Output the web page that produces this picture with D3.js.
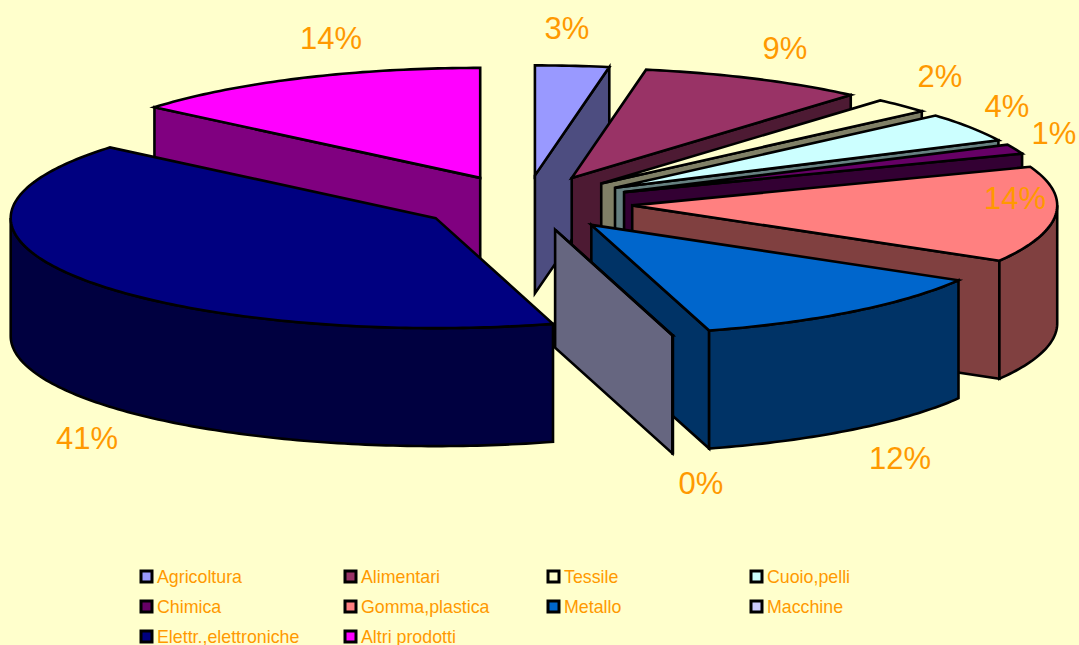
<!DOCTYPE html>
<html>
<head>
<meta charset="utf-8">
<script src="https://d3js.org/d3.v7.min.js"></script>
<style>
  html, body { margin: 0; padding: 0; background: #FFFFCC; overflow: hidden; }
  text { font-family: "Liberation Sans", Arial, sans-serif; fill: #FF9900; }
</style>
</head>
<body>
<div id="vis"></div>
<script>
// Chart data
const categories = ['Agricoltura', 'Alimentari', 'Tessile', 'Cuoio,pelli', 'Chimica', 'Gomma,plastica', 'Metallo', 'Macchine', 'Elettr.,elettroniche', 'Altri prodotti'];
const values = [2.8, 8.6, 2.2, 4.3, 1.4, 14.1, 12.13, 0.02, 40.55, 13.9];
const colors = ['#9999FF', '#993366', '#FFFFCC', '#CCFFFF', '#660066', '#FF8080', '#0066CC', '#CCCCFF', '#000080', '#FF00FF'];

// Layout
const width = 1079, height = 645;
const cx = 525.5, cy = 203, rx = 425, ry = 110;
const depth = 118;       // height of the pie wall
const explode = 0.252;   // how far each slice moves out, in pie radii
const labelAt = [[567, 28], [785, 48], [940, 76], [1007, 106], [1054, 133], [1015, 198], [900, 458], [701, 483], [87, 438], [331, 38]];
const legendX = [141, 345, 548, 751], legendY = [577, 607, 637];

const svg = d3.select('#vis')
    .append('svg')
    .attr('width', width)
    .attr('height', height)
    .style('display', 'block');

// Flat pie coordinates -> screen, tilted view with no perspective
const xScale = d3.scaleLinear().domain([-1, 1]).range([cx - rx, cx + rx]);
const yScale = d3.scaleLinear().domain([-1, 1]).range([cy + ry, cy - ry]);
const line = d3.line();

const slices = d3.pie().sort(null).value(d => d)(values).map((d, i) => {
    d.i = i;
    d.mid = (d.startAngle + d.endAngle) / 2;
    d.ox = explode * Math.sin(d.mid);
    d.oy = explode * Math.cos(d.mid);
    return d;
});

function pt(d, r, a, drop = 0) {
    return [xScale(d.ox + r * Math.sin(a)), yScale(d.oy + r * Math.cos(a)) + drop];
}

function rim(d, a0, a1, drop = 0) {
    const n = Math.max(2, Math.ceil((a1 - a0) * 60));
    return d3.range(n + 1).map(k => pt(d, 1, a0 + (a1 - a0) * k / n, drop));
}

function wall(d, a) {
    return [pt(d, 0, a), pt(d, 1, a), pt(d, 1, a, depth), pt(d, 0, a, depth)];
}

// Side faces are the top colour at half brightness
function shade(c) {
    const r = d3.rgb(c);
    return d3.rgb(r.r / 2, r.g / 2, r.b / 2).formatHex();
}

function face(pts, fill) {
    svg.append('path')
        .attr('d', line(pts) + 'Z')
        .attr('fill', fill)
        .attr('stroke', '#000')
        .attr('stroke-width', 2.6)
        .attr('stroke-linejoin', 'miter');
}

// Back slices first
slices.slice().sort((a, b) => Math.cos(b.mid) - Math.cos(a.mid)).forEach(d => {
    const top = colors[d.i], side = shade(top);

    if (Math.sin(d.startAngle) < -1e-6) face(wall(d, d.startAngle), side);
    if (Math.sin(d.endAngle) > 1e-6) face(wall(d, d.endAngle), side);

    // Outer wall, only the part turned to the viewer (90deg..270deg)
    const a0 = Math.max(d.startAngle, Math.PI / 2), a1 = Math.min(d.endAngle, Math.PI * 1.5);
    if (a1 > a0) {
        face(rim(d, a0, a1).concat(rim(d, a0, a1, depth).reverse()), side);
    }

    face([pt(d, 0, 0)].concat(rim(d, d.startAngle, d.endAngle)), top);
});

// Percent labels
svg.selectAll('.pct')
    .data(slices)
    .enter()
    .append('text')
    .attr('class', 'pct')
    .attr('x', d => labelAt[d.i][0])
    .attr('y', d => labelAt[d.i][1] + 11)
    .attr('text-anchor', 'middle')
    .style('font-size', '31px')
    .text(d => Math.round(d.value) + '%');

// Legend, four columns
const legend = svg.selectAll('.legendItem')
    .data(categories)
    .enter()
    .append('g')
    .attr('class', 'legendItem')
    .attr('transform', (d, i) => `translate(${legendX[i % 4]},${legendY[Math.floor(i / 4)]})`);

legend.append('rect')
    .attr('x', 0)
    .attr('y', -6)
    .attr('width', 11)
    .attr('height', 11)
    .attr('fill', (d, i) => colors[i])
    .attr('stroke', '#000')
    .attr('stroke-width', 3);

legend.append('text')
    .attr('x', 16)
    .attr('y', 6)
    .style('font-size', '17.8px')
    .text(d => d);
</script>
</body>
</html>
